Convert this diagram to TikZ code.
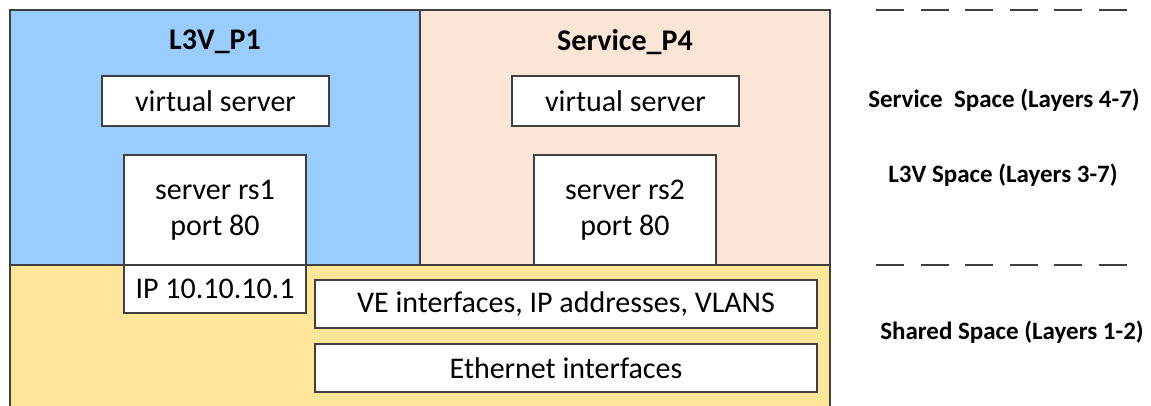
\documentclass[tikz,border=0pt]{standalone}
\usepackage{fontspec}
\setmainfont{Carlito}
\definecolor{bluefill}{HTML}{99CCFF}
\definecolor{peachfill}{HTML}{FBE5D6}
\definecolor{yellowfill}{HTML}{FFE699}
\definecolor{edge}{HTML}{404040}
\begin{document}
\begin{tikzpicture}[x=1pt,y=-1pt,
  region/.style={draw=edge,line width=1.1pt,inner sep=0pt,anchor=center},
  wbox/.style={draw=edge,fill=white,line width=1.1pt,inner sep=0pt,align=center,
    font=\fontsize{30}{36}\selectfont},
  ttl/.style={font=\fontsize{30}{36}\selectfont\bfseries,inner sep=0pt},
  side/.style={font=\fontsize{25}{30}\selectfont\bfseries,inner sep=0pt},
  sep/.style={draw=edge,line width=1.5pt,dash pattern=on 28pt off 16.6pt}]
\useasboundingbox (0,0) rectangle (1151,406);
% regions
\node[region,fill=bluefill,minimum width=410pt,minimum height=255pt] (blue) at (215,137.5) {};
\node[region,fill=peachfill,minimum width=410pt,minimum height=255pt] (peach) at (625,137.5) {};
\coordinate (ytl) at (10,265);
\coordinate (ytr) at (830,265);
\coordinate (ybl) at (10,406);
\coordinate (ybr) at (830,406);
\fill[yellowfill] (ybl) rectangle (ytr);
\draw[draw=edge,line width=1.1pt] (ybl) -- (ytl) -- (ytr) -- (ybr);
% titles
\node[ttl] (t1) at (215,42) {L3V\_P1};
\node[ttl] (t2) at (625,42) {Service\_P4};
% boxes
\node[wbox,minimum width=227pt,minimum height=50pt] (vs1) at (215.5,101) {virtual server};
\node[wbox,minimum width=227pt,minimum height=50pt] (vs2) at (625.5,101) {virtual server};
\node[wbox,minimum width=182pt,minimum height=110pt] (rs1) at (215,210) {server rs1\\port 80};
\node[wbox,minimum width=182pt,minimum height=110pt] (rs2) at (625,210) {server rs2\\port 80};
\node[wbox,minimum width=182pt,minimum height=48pt] (ip) at (215,289) {IP 10.10.10.1};
\node[wbox,minimum width=502pt,minimum height=48pt] (ve) at (566,304) {VE interfaces, IP addresses, VLANS};
\node[wbox,minimum width=502pt,minimum height=48pt] (eth) at (566,368) {Ethernet interfaces};
% side labels
\node[side] (s1) at (1004,100) {Service\ \ Space (Layers 4-7)};
\node[side] (s2) at (1003,175) {L3V Space (Layers 3-7)};
\node[side] (s3) at (1012,332) {Shared Space (Layers 1-2)};
\coordinate (d1a) at (876,10);
\coordinate (d1b) at (1127,10);
\coordinate (d2a) at (876,265);
\coordinate (d2b) at (1127,265);
\draw[sep] (d1a) -- (d1b);
\draw[sep] (d2a) -- (d2b);
\end{tikzpicture}
\end{document}
